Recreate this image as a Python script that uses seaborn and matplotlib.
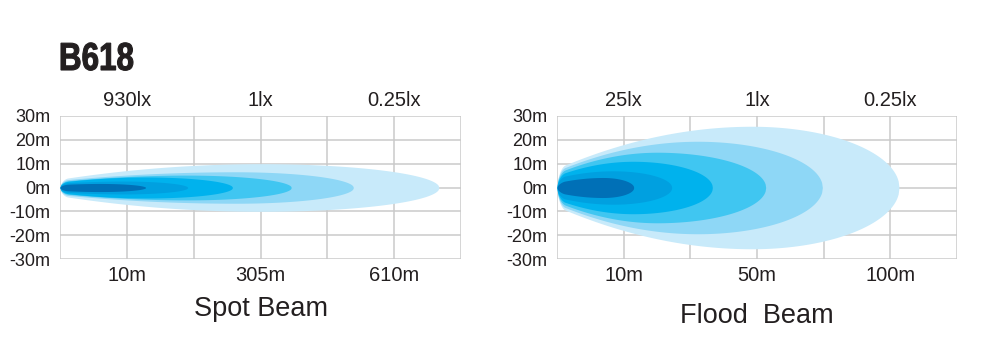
import numpy as np
import seaborn as sns
import matplotlib
matplotlib.use("Agg")
import matplotlib.pyplot as plt
from matplotlib.textpath import TextPath
from matplotlib.patches import PathPatch
from matplotlib.font_manager import FontProperties
from matplotlib.transforms import Affine2D

# --- data ----------------------------------------------------------------
model_name = "B618"

# x axis is drawn in grid columns (0..6); labels sit on columns 1, 3, 5
grid_cols = [0, 1, 2, 3, 4, 5, 6]
label_cols = [1, 3, 5]
y_ticks = [30, 20, 10, 0, -10, -20, -30]
y_labels = ["30m", "20m", "10m", "0m", "-10m", "-20m", "-30m"]

spot_title = "Spot Beam"
spot_lux = ["930lx", "1lx", "0.25lx"]
spot_dist = ["10m", "305m", "610m"]
# layers from outer (faint) to inner (strong)
spot_reach = [5.67, 4.39, 3.46, 2.58, 1.91, 1.28]      # grid columns
spot_half = [10.0, 6.6, 5.2, 4.4, 2.7, 1.7]            # m, max half width
spot_peak = [0.53, 0.60, 0.55, 0.50, 0.50, 0.47]       # where the max sits
spot_start = [3.5, 3.0, 2.5, 2.2, 1.8, 1.2]            # m, width at lamp

flood_title = "Flood  Beam"
flood_lux = ["25lx", "1lx", "0.25lx"]
flood_dist = ["10m", "50m", "100m"]
flood_reach = [5.13, 3.98, 3.13, 2.33, 1.72, 1.15]
flood_half = [25.7, 19.4, 14.8, 11.0, 7.0, 4.2]
flood_peak = [0.57, 0.53, 0.48, 0.49, 0.49, 0.60]
flood_start = [8.0, 7.0, 6.0, 5.0, 4.0, 2.0]

beam_colors = ["#c8eafa", "#8ed7f6", "#40c6f1", "#00b2ed", "#00a0e0", "#0070b7"]
grid_color = "#cacaca"
text_color = "#231f20"


def beam_outline(reach, half, peak, start, n=400):
	x = np.linspace(0, reach, n)
	xp = peak * reach
	left = start + (half - start) * (1 - (1 - x / xp) ** 2)
	u = np.clip((x - xp) / (reach - xp), 0, 1)
	right = half * np.sqrt(1 - u ** 2)
	h = np.where(x <= xp, left, right)
	# round off the tip at the lamp
	e = 0.12
	h = h * np.where(x < e, np.sqrt(np.clip(1 - (1 - x / e) ** 2, 0, 1)), 1)
	return x, h


def draw_panel(ax, reach, half, peak, start, lux, dist, title, title_pad):
	for c in grid_cols:
		ax.axvline(c, color=grid_color, lw=1.1, zorder=0)
	for yv in y_ticks:
		ax.axhline(yv, color=grid_color, lw=1.1, zorder=0)
	for i in range(len(reach)):
		x, h = beam_outline(reach[i], half[i], peak[i], start[i])
		ax.fill_between(x, -h, h, color=beam_colors[i], lw=0, zorder=2)
	ax.set_xlim(0, 6)
	ax.set_ylim(-30, 30)
	ax.set_xticks(label_cols)
	ax.set_xticklabels(dist, fontsize=14.5)
	ax.set_yticks(y_ticks)
	ax.set_yticklabels(y_labels, fontsize=13)
	ax.tick_params(axis='both', which='both', length=0, colors=text_color)
	ax.tick_params(axis='x', pad=5)
	ax.tick_params(axis='y', pad=7)
	ax.grid(False)
	for s in ax.spines.values():
		s.set_visible(False)
	top = ax.secondary_xaxis('top')
	top.set_xticks(label_cols)
	top.set_xticklabels(lux, fontsize=14.5)
	top.tick_params(length=0, pad=4, colors=text_color)
	for s in top.spines.values():
		s.set_visible(False)
	ax.set_xlabel(title, fontsize=19.5, labelpad=title_pad, color=text_color)


sns.set_theme(style="white")
plt.rcParams['font.family'] = ['Liberation Sans', 'DejaVu Sans']

fig = plt.figure(figsize=(10, 3.63), dpi=100)
fig.patch.set_facecolor('white')
ax1 = fig.add_axes([0.060, 1 - 259 / 363, 0.401, 143 / 363])
ax2 = fig.add_axes([0.557, 1 - 259 / 363, 0.400, 143 / 363])

draw_panel(ax1, spot_reach, spot_half, spot_peak, spot_start, spot_lux, spot_dist, spot_title, 8)
draw_panel(ax2, flood_reach, flood_half, flood_peak, flood_start, flood_lux, flood_dist, flood_title, 13)

# condensed heavy model name, squeezed horizontally
fp = FontProperties(family='Liberation Sans', weight='bold')
tp = TextPath((0, 0), model_name, size=39, prop=fp)
bb = tp.get_extents()
sx = 72 / bb.width
tr = Affine2D().translate(-bb.x0, 0).scale(sx, 1).translate(61, 363 - 70)
patch = PathPatch(tr.transform_path(tp), facecolor=text_color, edgecolor=text_color,
				  lw=0.8, transform=None)
fig.patches.append(patch)

fig.savefig('out.png', dpi=100, facecolor='white')
